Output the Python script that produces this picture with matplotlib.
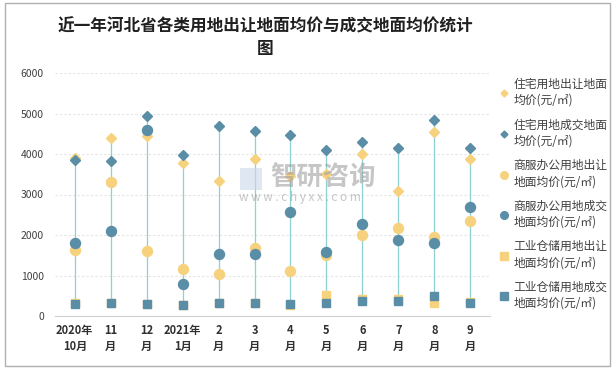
import matplotlib
matplotlib.use("Agg")
import matplotlib.pyplot as plt
from matplotlib.lines import Line2D
from matplotlib.patches import Rectangle
import numpy as np

plt.rcParams['font.family'] = ['Noto Sans CJK SC', 'DejaVu Sans']

months = ["2020年\n10月", "11\n月", "12\n月", "2021年\n1月", "2\n月", "3\n月", "4\n月",
          "5\n月", "6\n月", "7\n月", "8\n月", "9\n月"]
res_transfer = [3910, 4400, 4450, 3780, 3340, 3880, 3460, 3500, 4010, 3090, 4550, 3880]
res_deal = [3860, 3820, 4950, 3980, 4700, 4560, 4480, 4100, 4300, 4150, 4850, 4150]
com_transfer = [1620, 3300, 1600, 1150, 1030, 1670, 1100, 1510, 2000, 2170, 1950, 2340]
com_deal = [1800, 2110, 4590, 780, 1520, 1520, 2580, 1570, 2270, 1870, 1800, 2700]
ind_transfer = [330, 330, 300, 270, 330, 330, 270, 510, 410, 410, 330, 350]
ind_deal = [300, 330, 300, 270, 330, 330, 300, 330, 380, 380, 500, 330]

labels = ["住宅用地出让地面\n均价(元/㎡)", "住宅用地成交地面\n均价(元/㎡)",
          "商服办公用地出让\n地面均价(元/㎡)", "商服办公用地成交\n地面均价(元/㎡)",
          "工业仓储用地出让\n地面均价(元/㎡)", "工业仓储用地成交\n地面均价(元/㎡)"]
yticks = [0, 1000, 2000, 3000, 4000, 5000, 6000]

YEL = "#f7d27e"
BLU = "#5a8ea6"
LINE = "#8fd0d0"

fig = plt.figure(figsize=(6.16, 3.69), dpi=100)
fig.patches.append(Rectangle((5/616, 3/369), 605/616, 363/369, transform=fig.transFigure,
                             fill=False, edgecolor="#b0b0b0", lw=1.0))
ax = fig.add_axes([55/616, 1 - 316/369, 435/616, 243/369])

x = np.arange(len(months))
series = [res_transfer, res_deal, com_transfer, com_deal, ind_transfer, ind_deal]
arr = np.array(series)
ax.vlines(x, arr.min(axis=0), arr.max(axis=0), color=LINE, lw=0.9, zorder=1)

styles = [("D", YEL, 5.5), ("D", BLU, 5.5), ("o", YEL, 7.2), ("o", BLU, 7.2),
          ("s", YEL, 6.2), ("s", BLU, 6.2)]
handles = []
for s, (m, c, ms), lab in zip(series, styles, labels):
    ax.plot(x, s, linestyle="none", marker=m, color=c, markersize=ms, zorder=3)
    handles.append(Line2D([], [], linestyle="none", marker=m, color=c,
                          markersize={"D": 3.5, "o": 5.5, "s": 5.5}[m], label=lab))

ax.set_ylim(0, 6000)
ax.set_xlim(-0.55, len(months) - 0.45)
ax.set_yticks(yticks)
ax.set_yticklabels([str(v) for v in yticks], fontsize=7.5, color="#404040")
ax.set_xticks(x)
ax.set_xticklabels(months, fontsize=8, fontweight="bold", color="#303030", linespacing=1.25)
ax.tick_params(axis="both", length=0, pad=6)
ax.tick_params(axis="y", pad=8)
for sp in ["top", "right", "left"]:
    ax.spines[sp].set_visible(False)
ax.spines["bottom"].set_color("#d0d0d0")
ax.yaxis.grid(True, linestyle=(0, (2, 2)), color="#e4e4e4", lw=0.8)
ax.set_axisbelow(True)

# watermark
fig.patches.append(Rectangle((240/616, 1 - 190/369), 22/616, 22/369, transform=fig.transFigure,
                             facecolor="#c9d8ea", edgecolor="none", alpha=0.6, zorder=0))
fig.text(270/616, 1 - 178/369, "智研咨询", fontsize=19, color="#a0a0a0", alpha=0.6,
         va="center", ha="left", fontweight="bold")
fig.text(239/616, 1 - 198/369, "w w w . c h y x x . c o m", fontsize=8.5, color="#a0a0a0",
         alpha=0.6, va="center", ha="left")

fig.text(265/616, 1 - 38/369, "近一年河北省各类用地出让地面均价与成交地面均价统计\n图",
         ha="center", va="center", fontsize=12, fontweight="bold", color="#202020",
         linespacing=1.3)

leg = fig.legend(handles=handles, loc="upper left", bbox_to_anchor=(499/616, 1 - 78/369),
                 frameon=False, fontsize=8.5, handlelength=0.8, handletextpad=0.4,
                 labelspacing=0.98, borderaxespad=0, borderpad=0)
for t in leg.get_texts():
    t.set_linespacing(1.3)
    t.set_color("#404040")

fig.savefig("out.png", dpi=100)
